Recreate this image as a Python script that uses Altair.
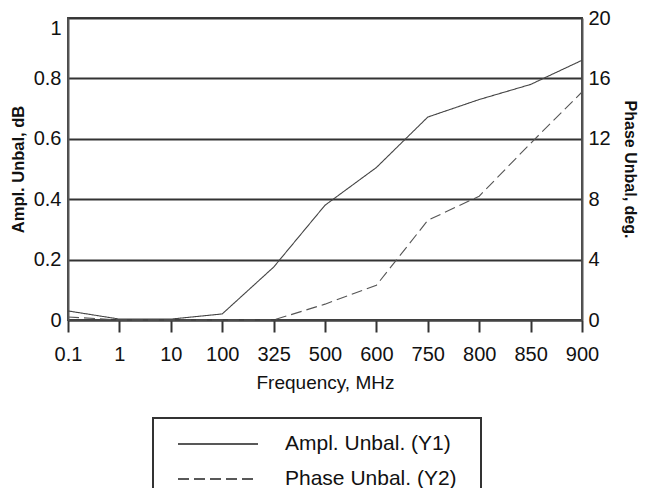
import altair as alt
import pandas as pd

freq = ["0.1", "1", "10", "100", "325", "500", "600", "750", "800", "850", "900"]
ampl = [0.03, 0.003, 0.003, 0.02, 0.175, 0.38, 0.505, 0.672, 0.73, 0.78, 0.86]
phase = [0.2, 0.0, 0.0, 0.0, 0.0, 1.05, 2.3, 6.6, 8.2, 11.7, 15.1]
series = ["Ampl. Unbal. (Y1)", "Phase Unbal. (Y2)"]
left_ticks = [0, 0.2, 0.4, 0.6, 0.8, 1.0]
right_ticks = [0, 4, 8, 12, 16, 20]

FONT = "Liberation Sans"
INK = "#111"

df = pd.DataFrame({"freq": freq, "ampl": ampl, "phase": phase})

dash_scale = alt.Scale(domain=series, range=[[1, 0], [11, 5]])

x_enc = alt.X(
    "freq:O",
    sort=freq,
    scale=alt.Scale(type="point", padding=0),
    axis=alt.Axis(
        title="Frequency, MHz",
        labelAngle=0,
        labelFontSize=20,
        labelFont=FONT,
        labelColor=INK,
        labelPadding=12,
        tickSize=12,
        tickColor="#333",
        tickWidth=2,
        domainColor="#444",
        domainWidth=2,
        titleFontSize=19,
        titleFont=FONT,
        titleFontWeight="normal",
        titleColor=INK,
        titleY=53,
        titleBaseline="top",
        grid=False,
    ),
)

ampl_line = (
    alt.Chart(df)
    .transform_calculate(series="'Ampl. Unbal. (Y1)'")
    .mark_line(color="#444", strokeWidth=1.1)
    .encode(
        x=x_enc,
        y=alt.Y(
            "ampl:Q",
            scale=alt.Scale(domain=[0, 1], nice=False),
            axis=alt.Axis(
                orient="left",
                values=left_ticks,
                format="~g",
                title="Ampl. Unbal, dB",
                titleFontSize=16.5,
                titleFont=FONT,
                titleFontWeight="bold",
                titleColor=INK,
                titleAngle=270,
                titleBaseline="bottom",
                titleAlign="center",
                titleX=-42,
                titleY=151,
                labelFontSize=20,
                labelFont=FONT,
                labelColor=INK,
                labelPadding=7,
                labelBaseline=alt.ExprRef("datum.value === 1 ? 'top' : 'middle'"),
                ticks=False,
                domainColor="#555",
                domainWidth=2,
                grid=True,
                gridColor="#333",
                gridWidth=2.2,
            ),
        ),
        strokeDash=alt.StrokeDash("series:N", scale=dash_scale, legend=alt.Legend(title=None)),
    )
)

phase_line = (
    alt.Chart(df)
    .transform_calculate(series="'Phase Unbal. (Y2)'")
    .mark_line(color="#555", strokeWidth=1.1)
    .encode(
        x=x_enc,
        y=alt.Y(
            "phase:Q",
            scale=alt.Scale(domain=[0, 20], nice=False),
            axis=alt.Axis(
                orient="right",
                values=right_ticks,
                format="d",
                title="Phase Unbal, deg.",
                titleFontSize=16,
                titleFont=FONT,
                titleFontWeight="bold",
                titleColor=INK,
                titleAngle=90,
                titleBaseline="bottom",
                titleAlign="center",
                titleX=39,
                titleY=151,
                labelFontSize=20,
                labelFont=FONT,
                labelColor=INK,
                labelPadding=6,
                ticks=False,
                domainColor="#555",
                domainWidth=2,
                grid=False,
            ),
        ),
        strokeDash=alt.StrokeDash("series:N", scale=dash_scale, legend=alt.Legend(title=None)),
    )
)

chart = (
    alt.layer(ampl_line, phase_line)
    .resolve_scale(y="independent")
    .properties(
        width=514,
        height=302,
        autosize=alt.AutoSizeParams(type="none"),
        padding={"left": 60, "top": 10, "right": 56, "bottom": 168},
    )
    .configure_view(stroke="#444", strokeWidth=2)
    .configure_legend(
        orient="none",
        legendX=85,
        legendY=400,
        strokeColor="#333",
        strokeWidth=2,
        padding=24,
        clipHeight=4,
        rowPadding=14,
        symbolOffset=0,
        symbolSize=6400,
        symbolType="stroke",
        symbolStrokeWidth=1.6,
        symbolStrokeColor="#222",
        labelOffset=26,
        labelFontSize=21,
        labelFont=FONT,
        labelColor=INK,
        labelLimit=400,
    )
)

chart.save("out.html", embed_options={"renderer": "svg", "actions": False})
